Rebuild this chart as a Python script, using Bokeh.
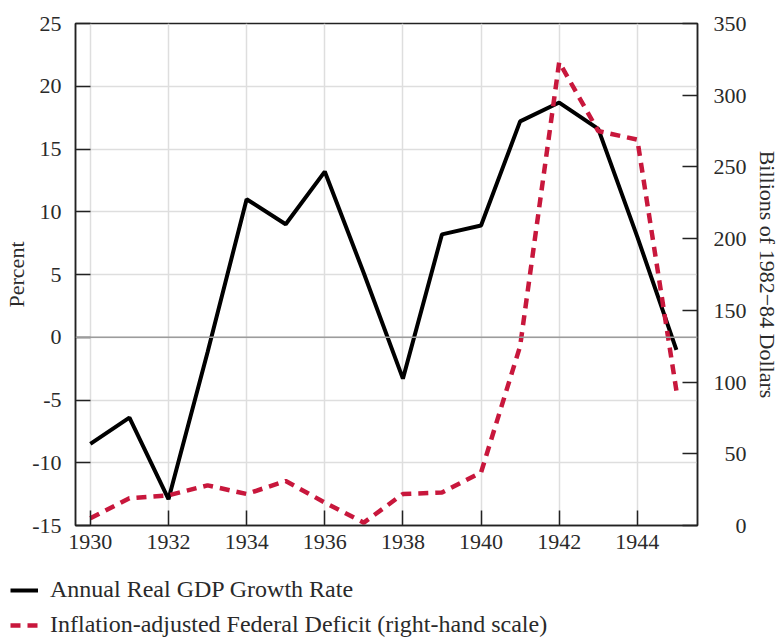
from bokeh.plotting import figure
from bokeh.layouts import column
from bokeh.models import (Range1d, LinearAxis, FixedTicker, Span, Legend, LegendItem,
                          CustomJSTickFormatter)
from bokeh.embed import file_html
from bokeh.resources import INLINE

years = list(range(1930, 1946))
gdp_growth = [-8.5, -6.4, -12.9, -1.2, 11.0, 9.0, 13.2, 5.1, -3.3, 8.2, 8.9, 17.2, 18.7, 16.6, 8.0, -1.0]
deficit = [5, 19, 21, 28, 22, 31, 16, 2, 22, 23, 37, 125, 323, 275, 269, 94]

x_ticks = list(range(1930, 1946, 2))
left_ticks = list(range(-15, 30, 5))
right_ticks = list(range(0, 400, 50))

series_labels = ["Annual Real GDP Growth Rate",
                 "Inflation-adjusted Federal Deficit (right-hand scale)"]

FONT = "Liberation Serif"
TXT = "#2a2a2a"
FS = "22px"
BLACK = "black"
RED = "#c8173c"
DASH = "10 7"

p = figure(width=782, height=570, output_backend="svg", toolbar_location=None,
           x_range=Range1d(1929.62, 1945.54), y_range=Range1d(-15, 25),
           min_border_left=75, min_border_right=85, min_border_top=23, min_border_bottom=45)
p.frame_align = False
p.extra_y_ranges = {"right": Range1d(0, 350)}
p.outline_line_color = "#222222"
p.outline_line_width = 1.5
p.background_fill_color = "white"
p.border_fill_color = "white"

# grid
p.xgrid.ticker = FixedTicker(ticks=x_ticks)
p.ygrid.ticker = FixedTicker(ticks=left_ticks)
for g in (p.xgrid, p.ygrid):
    g.grid_line_color = "#dedede"
    g.grid_line_width = 1.5

p.add_layout(Span(location=0, dimension="width", line_color="#9c9c9c", line_width=1.5))

# axes
xa = p.xaxis[0]
xa.ticker = FixedTicker(ticks=x_ticks)
xa.formatter = CustomJSTickFormatter(code="return String(tick);")
ya = p.yaxis[0]
ya.ticker = FixedTicker(ticks=left_ticks)
ya.formatter = CustomJSTickFormatter(code="return String(tick);")
ya.axis_label = "Percent"

ra = LinearAxis(y_range_name="right", ticker=FixedTicker(ticks=right_ticks),
                axis_label="Billions of 1982\u221284 Dollars")
ra.formatter = CustomJSTickFormatter(code="return String(tick).padStart(3, '\\u2007');")
p.add_layout(ra, "right")

for ax in (xa, ya, ra):
    ax.major_tick_in = 15
    ax.major_tick_out = 0
    ax.minor_tick_in = 0
    ax.minor_tick_out = 0
    ax.axis_line_color = "#222222"
    ax.axis_line_width = 1.5
    ax.major_tick_line_color = "#222222"
    ax.major_tick_line_width = 1.5
    ax.major_label_text_font = FONT
    ax.major_label_text_font_size = FS
    ax.major_label_text_color = TXT
    ax.axis_label_text_font = FONT
    ax.axis_label_text_font_size = FS
    ax.axis_label_text_font_style = "normal"
    ax.axis_label_text_color = TXT

xa.major_label_standoff = 9
ya.major_label_standoff = 14
ya.axis_label_standoff = 0
ra.major_label_standoff = 16
ra.axis_label_standoff = 5
ra.axis_label_orientation = "vertical"

p.line(years, gdp_growth, line_color=BLACK, line_width=4)
p.line(years, deficit, y_range_name="right", line_color=RED, line_width=4.5, line_dash=DASH)

# legend strip below the chart (proxy renderers lie outside its visible range)
leg = figure(width=782, height=69, output_backend="svg", toolbar_location=None,
             x_range=Range1d(0, 1), y_range=Range1d(0, 1),
             x_axis_location=None, y_axis_location=None,
             min_border_left=0, min_border_right=0, min_border_top=0, min_border_bottom=0)
leg.frame_align = False
leg.grid.visible = False
leg.outline_line_color = None
leg.border_fill_color = "white"
l1 = leg.line(years, gdp_growth, line_color=BLACK, line_width=4)
l2 = leg.line(years, deficit, line_color=RED, line_width=4.5, line_dash=DASH)

legend = Legend(items=[LegendItem(label=series_labels[0], renderers=[l1]),
                       LegendItem(label=series_labels[1], renderers=[l2])],
                location=(10, 1), orientation="vertical")
legend.border_line_color = None
legend.background_fill_alpha = 0
legend.padding = 0
legend.margin = 0
legend.spacing = 8
legend.glyph_width = 28
legend.glyph_height = 24
legend.label_height = 24
legend.label_standoff = 12
legend.label_text_font = FONT
legend.label_text_font_size = "24px"
legend.label_text_color = TXT
leg.add_layout(legend, "center")

layout = column(p, leg, spacing=0)
open("out.html", "w").write(file_html(layout, INLINE))
